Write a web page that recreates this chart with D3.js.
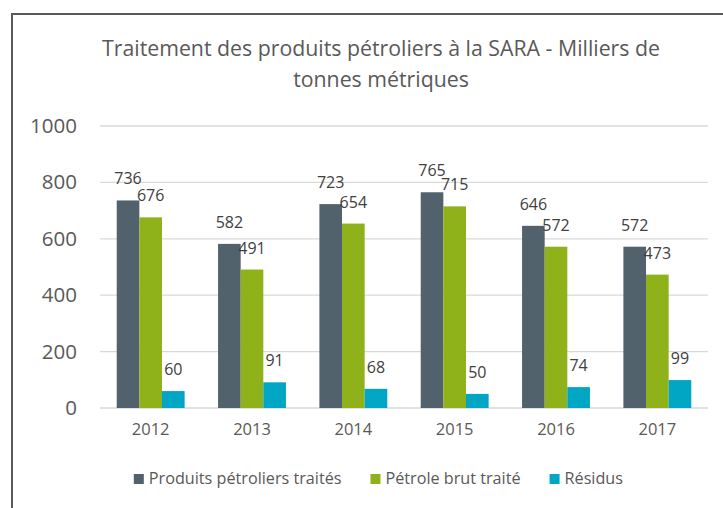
<!DOCTYPE html>
<html><head><meta charset="utf-8">
<script src="https://cdn.jsdelivr.net/npm/d3@7"></script>
<style>body{margin:0;background:#fff}svg{display:block}text{font-family:"Open Sans",sans-serif}</style>
</head><body>
<svg id="c" width="723" height="508"></svg>
<script>
const years = ["2012","2013","2014","2015","2016","2017"];
const seriesNames = ["Produits pétroliers traités","Pétrole brut traité","Résidus"];
const produits = [736,582,723,765,646,572];
const brut = [676,491,654,715,572,473];
const residus = [60,91,68,50,74,99];
const yTicks = [0,200,400,600,800,1000];
const titleLines = ["Traitement des produits pétroliers à la SARA - Milliers de","tonnes métriques"];
const colors = ["#52626d","#8fb11a","#00a6c3"];

(function(){
const series = [produits, brut, residus];
const svg = d3.select("#c");
svg.append("rect").attr("x",12).attr("y",14).attr("width",760).attr("height",520)
  .attr("fill","#fff").attr("stroke","#595959").attr("stroke-width",2);

const pL=100, pR=708, pT=126, pB=408;
const x = d3.scaleBand().domain(years).range([pL,pR]).paddingInner(0.33).paddingOuter(0.165);
const xs = d3.scaleBand().domain(d3.range(3)).range([0,x.bandwidth()]);
const y = d3.scaleLinear().domain([0,1000]).range([pB,pT]);

svg.append("g").selectAll("line").data(yTicks).join("line")
  .attr("x1",pL).attr("x2",pR).attr("y1",d=>y(d)).attr("y2",d=>y(d))
  .attr("stroke","#d9d9d9").attr("stroke-width",1.3);

const yAxis = svg.append("g").attr("transform",`translate(${pL},0)`)
  .call(d3.axisLeft(y).tickValues(yTicks).tickSize(0).tickPadding(23).tickFormat(d3.format("d")));
yAxis.select(".domain").remove();
yAxis.selectAll("text").attr("font-size",20.5).attr("fill","#595959").attr("font-family","Open Sans");

const xAxis = svg.append("g").attr("transform",`translate(0,${pB})`)
  .call(d3.axisBottom(x).tickSize(0).tickPadding(15));
xAxis.select(".domain").remove();
xAxis.selectAll("text").attr("font-size",16.5).attr("fill","#595959").attr("font-family","Open Sans");

series.forEach((vals,si)=>{
  const g = svg.append("g");
  g.selectAll("rect").data(vals).join("rect")
    .attr("x",(d,i)=>x(years[i])+xs(si)).attr("width",xs.bandwidth())
    .attr("y",d=>y(d)).attr("height",d=>y(0)-y(d)).attr("fill",colors[si]);
  g.selectAll("text").data(vals).join("text")
    .attr("x",(d,i)=>x(years[i])+xs(si)+xs.bandwidth()/2).attr("y",d=>y(d)-16)
    .attr("text-anchor","middle").attr("font-size",16).attr("fill","#404040").text(d=>d);
});

svg.append("g").selectAll("text").data(titleLines).join("text")
  .attr("x",381).attr("y",(d,i)=>56+i*31).attr("text-anchor","middle")
  .attr("font-size",21.3).attr("fill","#595959").text(d=>d);

const lg = svg.append("g");
const items = lg.selectAll("g").data(seriesNames).join("g");
items.append("rect").attr("width",10).attr("height",10).attr("y",-10).attr("fill",(d,i)=>colors[i]);
items.append("text").attr("x",15).attr("font-size",16.2).attr("fill","#595959").text(d=>d);
const widths=[];
items.each(function(){ widths.push(15+this.querySelector("text").getComputedTextLength()); });
const gap=29; const total=d3.sum(widths)+gap*(widths.length-1);
let start=623-total;
items.attr("transform",(d,i)=>{const t=`translate(${start},484)`; start+=widths[i]+gap; return t;});
})();
</script>
</body></html>
